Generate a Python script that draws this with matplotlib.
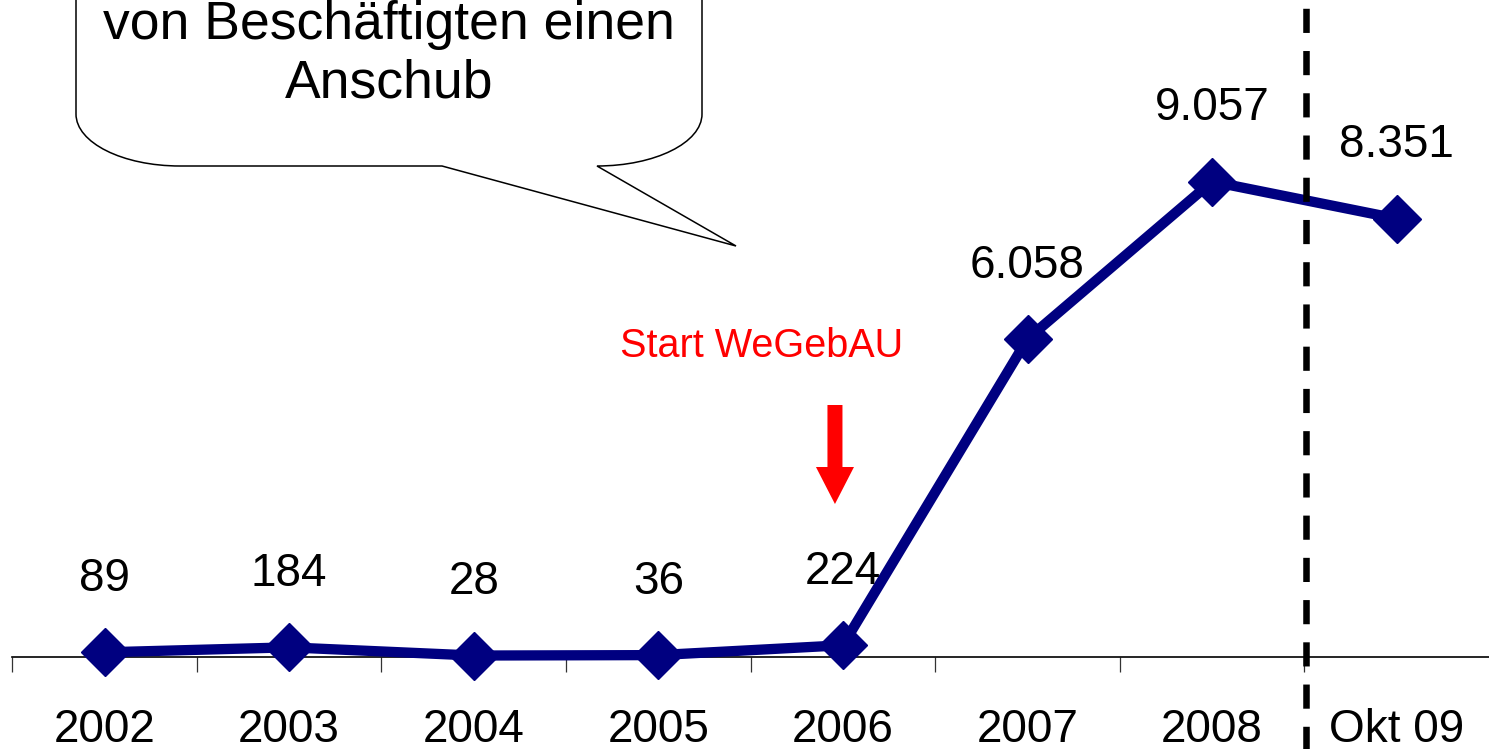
import matplotlib
matplotlib.use('Agg')
import matplotlib.pyplot as plt
from matplotlib.path import Path
from matplotlib.patches import PathPatch, FancyArrow

plt.rcParams['font.family'] = ['Liberation Sans', 'DejaVu Sans']

# Daten
jahre = ['2002', '2003', '2004', '2005', '2006', '2007', '2008', 'Okt 09']
teilnehmer = [89, 184, 28, 36, 224, 6058, 9057, 8351]
blase_text = ['von Beschäftigten einen', 'Anschub']
start_text = 'Start WeGebAU'

W, H = 1489, 749
fig = plt.figure(figsize=(W / 100, H / 100), dpi=100)
# Achse: 0 liegt bei y=657px, Kategorien 184.6px breit
ax = fig.add_axes([12.2 / W, 92 / H, 1476.8 / W, 657 / H])
ytop = 657 / 0.0525
ax.set_xlim(-0.5, 7.5)
ax.set_ylim(0, ytop)

x = list(range(len(jahre)))
ax.plot(x, teilnehmer, color='#000080', lw=7.4, marker='D', ms=24,
        mec='#000080', mew=1, zorder=3, clip_on=False)

# Datenbeschriftungen (deutsches Tausendertrennzeichen)
for i, v in enumerate(teilnehmer):
    ax.annotate(f'{v:,}'.replace(',', '.'), (i, v), xytext=(0, 44),
                textcoords='offset points', ha='center', va='baseline',
                fontsize=33)

for s in ['left', 'right', 'top']:
    ax.spines[s].set_visible(False)
ax.spines['bottom'].set_linewidth(1.2)
ax.set_yticks([])
ax.set_xticks(x)
ax.set_xticklabels(jahre, fontsize=33)
ax.tick_params(axis='x', which='major', length=0, pad=37)
ax.set_xticks([i - 0.5 for i in x], minor=True)
ax.tick_params(axis='x', which='minor', length=10.8, width=0.9,
               color='#333333', direction='out')

# gestrichelte Trennlinie zwischen 2008 und Okt 09
ax.plot([6.51, 6.51], [ytop, -92 / 0.0525], color='black', lw=4.7,
        ls=(5.2, (3.7, 2.77)), clip_on=False, zorder=4)

# roter Pfeil + Text
ax.text(2.793, 5714, start_text, color='red', fontsize=28.5,
        ha='left', va='baseline')
ax.add_patch(FancyArrow(3.957, 4800, 0, -1886, width=0.0813,
                        head_width=0.206, head_length=705,
                        length_includes_head=True, color='red', lw=0,
                        clip_on=False))

# Sprechblase (in Pixeln, oben abgeschnitten)
def fx(px):
    return px / W

def fy(py):
    return 1 - py / H

k = 0.5523
pts = [(76, -60), (76, 114),
       (76, 114 + k * 52), (180 - k * 104, 166), (180, 166),
       (442, 166), (736, 246), (597, 166),
       (597 + k * 105, 166), (702, 114 + k * 52), (702, 114),
       (702, -60), (76, -60)]
codes = [Path.MOVETO, Path.LINETO,
         Path.CURVE4, Path.CURVE4, Path.CURVE4,
         Path.LINETO, Path.LINETO, Path.LINETO,
         Path.CURVE4, Path.CURVE4, Path.CURVE4,
         Path.LINETO, Path.CLOSEPOLY]
blase = PathPatch(Path([(fx(a), fy(b)) for a, b in pts], codes),
                  transform=fig.transFigure, facecolor='white',
                  edgecolor='black', lw=1.1, clip_on=False)
fig.add_artist(blase)
fig.text(fx(389), fy(39), blase_text[0], ha='center', va='baseline', fontsize=38.5)
fig.text(fx(389), fy(97), blase_text[1], ha='center', va='baseline', fontsize=38.5)

fig.savefig('out.png', dpi=100)
